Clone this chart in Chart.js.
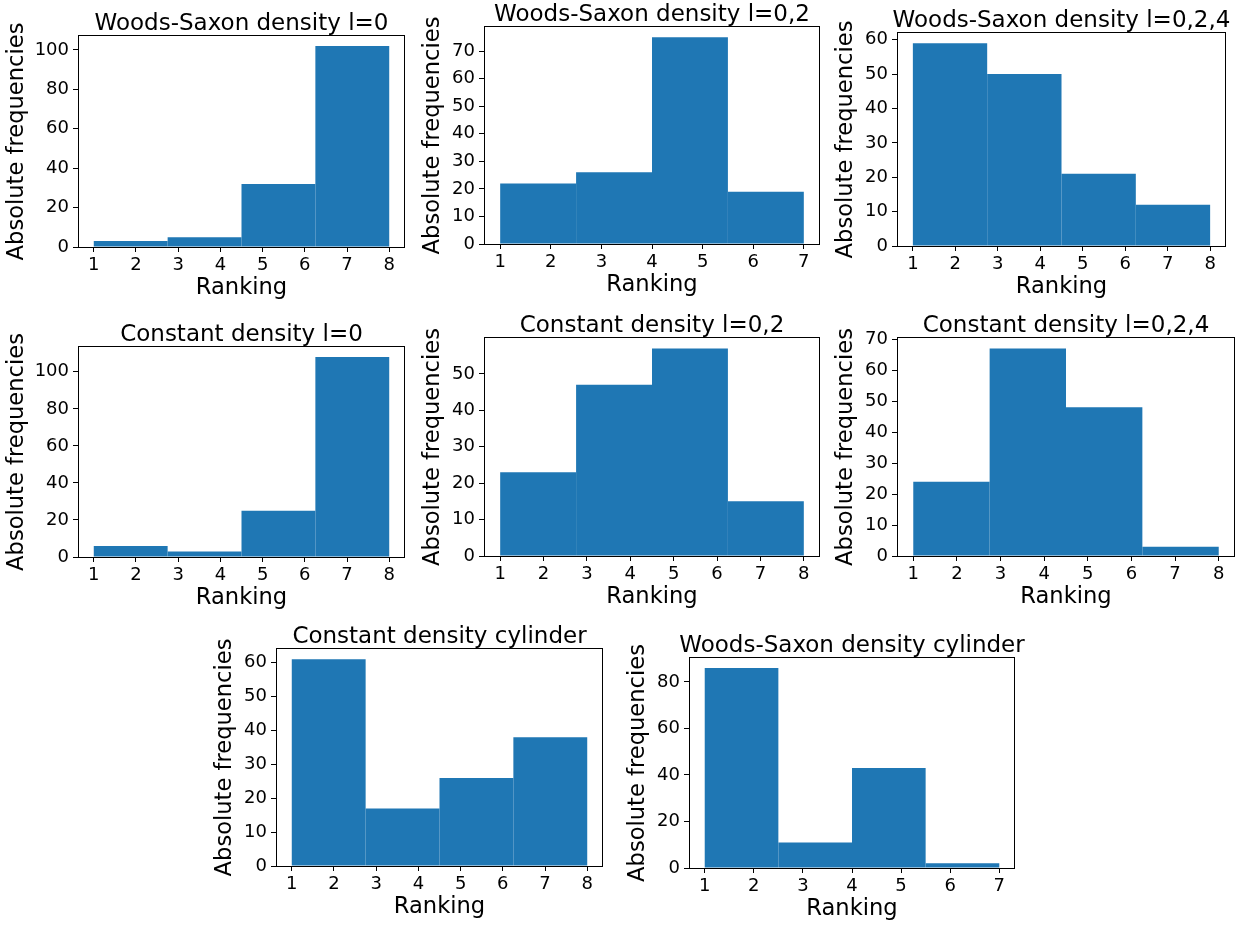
<!DOCTYPE html>
<html><head><meta charset="utf-8">
<script src="https://cdn.jsdelivr.net/npm/chart.js@4.4.1/dist/chart.umd.min.js"></script>
<style>
html,body{margin:0;padding:0;background:#fff;width:1255px;height:925px;overflow:hidden;position:relative}
canvas{position:absolute}
</style></head>
<body>
<script>
// ---- data ----
const titles = [
  'Woods-Saxon density l=0',
  'Woods-Saxon density l=0,2',
  'Woods-Saxon density l=0,2,4',
  'Constant density l=0',
  'Constant density l=0,2',
  'Constant density l=0,2,4',
  'Constant density cylinder',
  'Woods-Saxon density cylinder'
];
const wsL0   = [3, 5, 32, 102];
const wsL02  = [22, 26, 75, 19];
const wsL024 = [59, 50, 21, 12];
const cdL0   = [6, 3, 25, 108];
const cdL02  = [23, 47, 57, 15];
const cdL024 = [24, 67, 48, 3];
const cdCyl  = [61, 17, 26, 38];
const wsCyl  = [86, 11, 43, 2];

const edges8 = [1, 2.75, 4.5, 6.25, 8];
const edges7 = [1, 2.5, 4, 5.5, 7];
const xTicks8 = [1, 2, 3, 4, 5, 6, 7, 8];
const xTicks7 = [1, 2, 3, 4, 5, 6, 7];

const yTicks20to100 = [0, 20, 40, 60, 80, 100];
const yTicks10to70  = [0, 10, 20, 30, 40, 50, 60, 70];
const yTicks10to60  = [0, 10, 20, 30, 40, 50, 60];
const yTicks10to50  = [0, 10, 20, 30, 40, 50];
const yTicks20to80  = [0, 20, 40, 60, 80];

const xLabel = 'Ranking';
const yLabel = 'Absolute frequencies';

// ---- layout (axes boxes in page pixels: left, top, right, bottom) ----
const panels = [
  {title: titles[0], counts: wsL0,   edges: edges8, xTicks: xTicks8, yTicks: yTicks20to100, box: [79, 36, 404, 247]},
  {title: titles[1], counts: wsL02,  edges: edges7, xTicks: xTicks7, yTicks: yTicks10to70,  box: [485, 27, 819, 244]},
  {title: titles[2], counts: wsL024, edges: edges8, xTicks: xTicks8, yTicks: yTicks10to60,  box: [898, 33, 1225, 246]},
  {title: titles[3], counts: cdL0,   edges: edges8, xTicks: xTicks8, yTicks: yTicks20to100, box: [79, 347, 404, 557]},
  {title: titles[4], counts: cdL02,  edges: edges8, xTicks: xTicks8, yTicks: yTicks10to50,  box: [485, 338, 819, 556]},
  {title: titles[5], counts: cdL024, edges: edges8, xTicks: xTicks8, yTicks: yTicks10to70,  box: [898, 338, 1234, 556]},
  {title: titles[6], counts: cdCyl,  edges: edges8, xTicks: xTicks8, yTicks: yTicks10to60,  box: [277, 649, 602, 866]},
  {title: titles[7], counts: wsCyl,  edges: edges7, xTicks: xTicks7, yTicks: yTicks20to80,  box: [690, 658, 1014, 868]}
];

const FONT = "'DejaVu Sans', sans-serif";
const TICK_SIZE = 18, LABEL_SIZE = 22.6, TITLE_SIZE = 23;
const ML = 80, MR = 45, MT = 45, MB = 62;
const BAR = '#1f77b4';

const framePlugin = {
  id: 'frame',
  afterDatasetsDraw(chart) {
    const {ctx, chartArea: a} = chart;
    ctx.save();
    ctx.strokeStyle = '#000';
    ctx.lineWidth = 1;
    ctx.strokeRect(Math.round(a.left) - 0.5, Math.round(a.top) - 0.5,
                   Math.round(a.right - a.left) + 1, Math.round(a.bottom - a.top) + 1);
    ctx.restore();
  }
};
const titlePlugin = {
  id: 'axTitle',
  afterDraw(chart) {
    const {ctx, chartArea: a} = chart;
    ctx.save();
    ctx.font = TITLE_SIZE + 'px ' + FONT;
    ctx.fillStyle = '#000';
    ctx.textAlign = 'center';
    ctx.textBaseline = 'alphabetic';
    ctx.fillText(chart.options.plugins.axTitle.text, (a.left + a.right) / 2, a.top - 6);
    ctx.restore();
  }
};

panels.forEach(p => {
  const [l, t, r, b] = p.box;
  const w = ML + (r - l) + MR, h = MT + (b - t) + MB;
  const cv = document.createElement('canvas');
  cv.width = w; cv.height = h;
  cv.style.left = (l - ML) + 'px';
  cv.style.top = (t - MT) + 'px';
  cv.style.width = w + 'px';
  cv.style.height = h + 'px';
  document.body.appendChild(cv);

  const n = p.counts.length;
  const centers = p.counts.map((_, k) => (p.edges[k] + p.edges[k + 1]) / 2);
  const binW = p.edges[1] - p.edges[0];
  const xStep = p.xTicks[1] - p.xTicks[0];
  const x0 = p.edges[0], x1 = p.edges[n];
  const xr = x1 - x0;
  const ymax = Math.max(...p.counts) * 1.05;
  const digits = String(p.yTicks[p.yTicks.length - 1]).length;
  const gap = 32 + 10 * digits;
  const yTitlePad = ML - gap - LABEL_SIZE * 1.2 / 2;

  new Chart(cv, {
    type: 'bar',
    data: {
      datasets: [{
        data: centers.map((c, k) => ({x: c, y: p.counts[k]})),
        backgroundColor: BAR,
        borderWidth: 0,
        barPercentage: 1,
        categoryPercentage: binW / xStep
      }]
    },
    options: {
      responsive: false,
      animation: false,
      devicePixelRatio: 1,
      layout: {padding: {left: 0, top: MT, right: MR, bottom: 0}},
      plugins: {
        legend: {display: false},
        tooltip: {enabled: false},
        axTitle: {text: p.title}
      },
      scales: {
        x: {
          type: 'linear',
          min: x0 - 0.05 * xr,
          max: x1 + 0.05 * xr,
          offset: false,
          afterBuildTicks: s => { s.ticks = p.xTicks.map(v => ({value: v})); },
          ticks: {font: {family: FONT, size: TICK_SIZE}, color: '#000', padding: 3,
                  maxRotation: 0, autoSkip: false},
          grid: {display: true, drawOnChartArea: false, offset: false, tickLength: 5,
                 tickColor: '#000', tickWidth: 1},
          border: {display: false},
          title: {display: true, text: xLabel, font: {family: FONT, size: LABEL_SIZE},
                  color: '#000', padding: {top: 0, bottom: 7}},
          afterFit: s => { s.height = MB; s.paddingLeft = 0; s.paddingRight = 0; }
        },
        y: {
          type: 'linear',
          min: 0,
          max: ymax,
          afterBuildTicks: s => { s.ticks = p.yTicks.map(v => ({value: v})); },
          ticks: {font: {family: FONT, size: TICK_SIZE}, color: '#000', padding: 4},
          grid: {display: true, drawOnChartArea: false, tickLength: 6,
                 tickColor: '#000', tickWidth: 1},
          border: {display: false},
          title: {display: true, text: yLabel, font: {family: FONT, size: LABEL_SIZE},
                  color: '#000', padding: {top: yTitlePad, bottom: 0}},
          afterFit: s => { s.width = ML; s.paddingTop = 0; s.paddingBottom = 0; }
        }
      }
    },
    plugins: [framePlugin, titlePlugin]
  });
});
</script>
</body></html>
